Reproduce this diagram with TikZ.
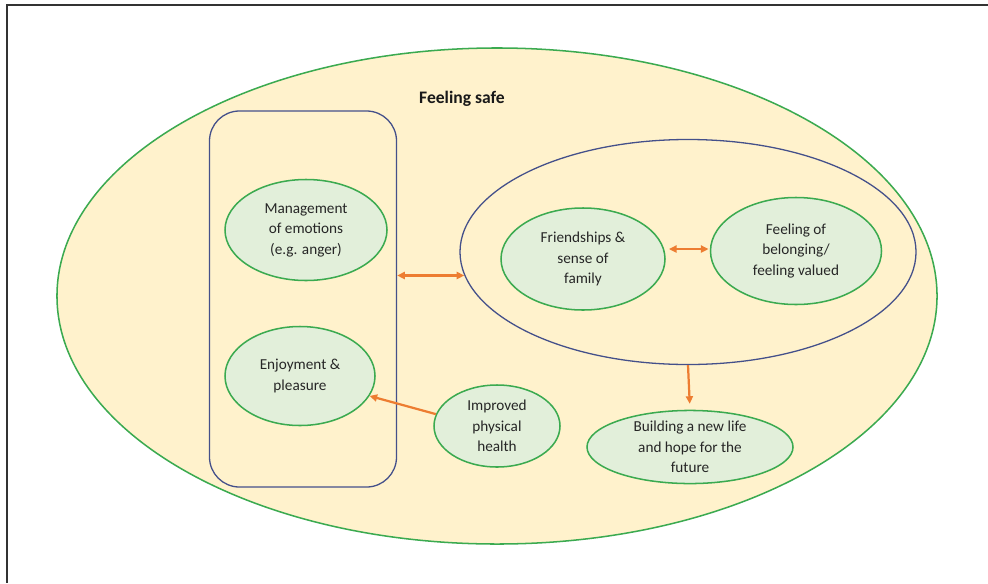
\documentclass[tikz,border=0pt]{standalone}
\usepackage{fontspec}
\setmainfont{Carlito}
\usepackage{tikz}
\usetikzlibrary{shapes.geometric,arrows.meta}
\usepackage{xcolor}
\definecolor{safecream}{HTML}{FFF2CC}
\definecolor{themegreen}{HTML}{3BAA50}
\definecolor{themefill}{HTML}{E2EFDA}
\definecolor{groupnavy}{HTML}{44508A}
\definecolor{linkorange}{HTML}{ED7D31}
\definecolor{textgray}{HTML}{262626}

\begin{document}
\begin{tikzpicture}[x=0.03cm, y=-0.03cm,
    every node/.style={align=center, inner sep=0pt, text=textgray,
      font=\fontsize{13}{17.5}\selectfont},
    theme/.style={ellipse, draw=themegreen, line width=1.3pt, fill=themefill},
    group/.style={draw=groupnavy, line width=1.1pt},
    link/.style={color=linkorange, line width=1.9pt,
      -{Triangle[length=6.5pt,width=6pt]}},
    both/.style={link, {Triangle[length=6.5pt,width=6pt]}-{Triangle[length=6.5pt,width=6pt]}}]

  \useasboundingbox (0,0) rectangle (988,583);
  \draw[line width=1.5pt, draw=black!80] (988,5) -- (7,5) -- (7,583);

  \node[ellipse, draw=themegreen, line width=1.3pt, fill=safecream,
    minimum width=26.4cm, minimum height=14.88cm] (safe) at (497,296) {};
  \node[text=black!90, font=\bfseries\fontsize{15}{18}\selectfont] (title) at (462,99) {Feeling safe};

  \node[group, rectangle, rounded corners=0.9cm,
    minimum width=5.61cm, minimum height=11.28cm] (rect) at (303,299) {};
  \node[group, ellipse, minimum width=13.68cm, minimum height=6.75cm] (circle) at (688,252) {};

  \node[theme, minimum width=4.86cm, minimum height=3.03cm] (emotions) at (306,230)
    {Management\\ of emotions\\ (e.g. anger)};
  \node[theme, minimum width=4.5cm, minimum height=2.97cm] (enjoy) at (300,376)
    {Enjoyment \&\\ pleasure};
  \node[theme, minimum width=4.92cm, minimum height=3.06cm] (friends) at (583,259)
    {Friendships \&\\ sense of\\ family};
  \node[theme, minimum width=5.13cm, minimum height=3.21cm] (belong) at (796,251)
    {Feeling of\\ belonging/\\ feeling valued};
  \node[theme, minimum width=3.78cm, minimum height=2.46cm] (health) at (497,426)
    {Improved\\ physical\\ health};
  \node[theme, minimum width=6.18cm, minimum height=2.16cm] (future) at (690,447)
    {Building a new life\\ and hope for the\\ future};

  \path[both] (rect.east |- circle.186) edge (circle.186);
  \path[both, shorten <=4pt, shorten >=1pt] (friends.7) edge (belong.west |- friends.7);
  \path[link, shorten >=5pt] (circle.south) edge (future.north);
  \path[link] (health.169) edge (enjoy.-16);

\end{tikzpicture}
\end{document}
